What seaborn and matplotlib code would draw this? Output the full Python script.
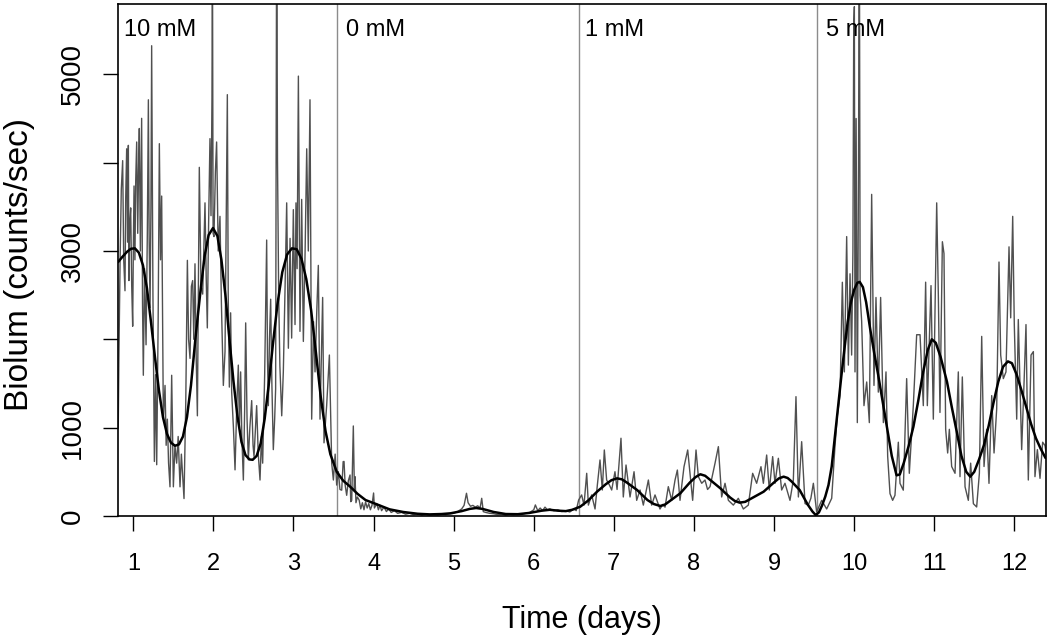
import matplotlib
matplotlib.use("Agg")
import matplotlib.pyplot as plt
import seaborn as sns
import pandas as pd

# raw bioluminescence trace (days, counts/sec)
raw_day = [
    0.812, 0.820, 0.835, 0.850, 0.867, 0.880, 0.896, 0.905, 0.917, 0.928,
    0.938, 0.945, 0.955, 0.967, 0.980, 0.992, 1.000, 1.009, 1.020, 1.030,
    1.042, 1.055, 1.065, 1.075, 1.088, 1.104, 1.115, 1.125, 1.140, 1.159,
    1.175, 1.188, 1.198, 1.209, 1.220, 1.229, 1.245, 1.263, 1.278, 1.292,
    1.310, 1.325, 1.340, 1.354, 1.375, 1.396, 1.410, 1.425, 1.440, 1.458,
    1.479, 1.500, 1.520, 1.541, 1.560, 1.583, 1.600, 1.633, 1.655, 1.675,
    1.690, 1.708, 1.725, 1.741, 1.755, 1.770, 1.785, 1.800, 1.812, 1.824,
    1.845, 1.866, 1.880, 1.895, 1.910, 1.924, 1.940, 1.957, 1.970, 1.982,
    1.988, 1.996, 2.007, 2.025, 2.040, 2.060, 2.082, 2.100, 2.124, 2.145,
    2.160, 2.174, 2.185, 2.199, 2.215, 2.228, 2.250, 2.270, 2.290, 2.311,
    2.325, 2.340, 2.355, 2.374, 2.390, 2.403, 2.420, 2.436, 2.455, 2.478,
    2.495, 2.507, 2.525, 2.540, 2.560, 2.582, 2.600, 2.615, 2.640, 2.665,
    2.675, 2.686, 2.700, 2.715, 2.730, 2.748, 2.765, 2.777, 2.790, 2.800,
    2.815, 2.830, 2.853, 2.873, 2.895, 2.915, 2.936, 2.957, 2.977, 2.998,
    3.019, 3.031, 3.045, 3.061, 3.081, 3.102, 3.123, 3.145, 3.165, 3.185,
    3.206, 3.227, 3.250, 3.269, 3.290, 3.310, 3.331, 3.364, 3.381, 3.414,
    3.448, 3.477, 3.498, 3.520, 3.539, 3.560, 3.580, 3.602, 3.620, 3.631,
    3.645, 3.664, 3.685, 3.706, 3.715, 3.727, 3.740, 3.747, 3.760, 3.768,
    3.780, 3.797, 3.820, 3.840, 3.860, 3.880, 3.900, 3.920, 3.940, 3.960,
    3.980, 4.000, 4.010, 4.040, 4.060, 4.080, 4.100, 4.130, 4.160, 4.190,
    4.220, 4.260, 4.300, 4.350, 4.400, 4.450, 4.500, 4.550, 4.600, 4.650,
    4.700, 4.750, 4.800, 4.850, 4.900, 4.950, 5.000, 5.050, 5.100, 5.130,
    5.160, 5.180, 5.210, 5.240, 5.270, 5.300, 5.330, 5.350, 5.370, 5.400,
    5.450, 5.500, 5.550, 5.600, 5.650, 5.700, 5.750, 5.800, 5.850, 5.900,
    5.950, 6.000, 6.020, 6.050, 6.080, 6.110, 6.140, 6.170, 6.200, 6.250,
    6.300, 6.350, 6.400, 6.450, 6.500, 6.530, 6.560, 6.598, 6.627, 6.661,
    6.682, 6.723, 6.765, 6.794, 6.827, 6.856, 6.881, 6.910, 6.944, 6.973,
    7.014, 7.040, 7.056, 7.089, 7.118, 7.152, 7.181, 7.202, 7.252, 7.285,
    7.327, 7.368, 7.431, 7.472, 7.514, 7.576, 7.610, 7.639, 7.680, 7.722,
    7.764, 7.793, 7.826, 7.876, 7.922, 7.951, 7.984, 8.026, 8.055, 8.097,
    8.138, 8.170, 8.201, 8.263, 8.305, 8.346, 8.388, 8.430, 8.492, 8.554,
    8.617, 8.679, 8.733, 8.783, 8.837, 8.867, 8.908, 8.941, 8.983, 9.012,
    9.054, 9.095, 9.137, 9.199, 9.241, 9.274, 9.304, 9.345, 9.387, 9.428,
    9.460, 9.491, 9.532, 9.595, 9.657, 9.720, 9.761, 9.790, 9.824, 9.853,
    9.878, 9.907, 9.928, 9.949, 9.969, 9.985, 9.995, 10.003, 10.011, 10.025,
    10.040, 10.055, 10.065, 10.075, 10.094, 10.123, 10.157, 10.190, 10.219, 10.248,
    10.273, 10.302, 10.331, 10.365, 10.398, 10.419, 10.448, 10.481, 10.510, 10.552,
    10.573, 10.614, 10.656, 10.689, 10.739, 10.781, 10.823, 10.864, 10.893, 10.914,
    10.960, 10.989, 11.031, 11.052, 11.072, 11.102, 11.122, 11.143, 11.168, 11.189,
    11.218, 11.260, 11.301, 11.322, 11.351, 11.385, 11.426, 11.455, 11.489, 11.530,
    11.564, 11.593, 11.622, 11.655, 11.684, 11.718, 11.747, 11.780, 11.809, 11.830,
    11.863, 11.896, 11.934, 11.955, 11.980, 12.000, 12.030, 12.050, 12.092, 12.125,
    12.146, 12.175, 12.209, 12.238, 12.258, 12.288, 12.321, 12.354, 12.383, 12.400,
]
raw_val = [
    1000, 1800, 2900, 3700, 4023, 2900, 2550, 3600, 4157, 3100,
    4196, 2665, 3300, 3488, 2600, 2148, 3000, 3736, 2900, 3800,
    4234, 3200, 3900, 4387, 3000, 4502, 2400, 1593, 2800, 1938,
    3200, 4712, 3100, 2359, 3500, 5324, 2500, 617, 1600, 580,
    2200, 4215, 2900, 3622, 1096, 1478, 800, 1096, 600, 330,
    1593, 330, 800, 598, 900, 330, 700, 197, 1300, 2894,
    2000, 1784, 2600, 2665, 2000, 2855, 1800, 1134, 2500, 3947,
    2600, 2512, 3000, 3545, 2700, 2129, 3300, 4272, 3400, 4732,
    6500, 3200, 3163, 3900, 4234, 3000, 3392, 2400, 1478, 1861,
    3300, 4770, 2500, 1459, 2300, 1402, 1000, 522, 1200, 1708,
    1000, 1631, 900, 407, 1200, 2186, 1100, 636, 1000, 1306,
    800, 675, 1000, 1249, 700, 407, 900, 598, 1600, 3124,
    1800, 1249, 2000, 2454, 1500, 751, 1100, 1440, 7000, 4042,
    2500, 1700, 1134, 1631, 2600, 3545, 1899, 3143, 2014, 3468,
    2167, 3545, 2800, 4980, 2090, 3584, 1976, 3000, 4157, 3000,
    4712, 1096, 2200, 1631, 2300, 2837, 1096, 2474, 828, 1249,
    1822, 598, 407, 700, 350, 502, 300, 292, 615, 617,
    350, 234, 400, 464, 162, 177, 710, 1019, 300, 445,
    150, 215, 180, 80, 150, 70, 160, 90, 140, 70,
    120, 260, 90, 140, 70, 120, 60, 100, 50, 80,
    40, 60, 30, 40, 20, 30, 15, 25, 10, 20,
    10, 15, 10, 20, 15, 25, 30, 50, 80, 120,
    257, 150, 110, 120, 100, 115, 90, 200, 49, 40,
    30, 25, 15, 20, 10, 20, 15, 25, 20, 30,
    40, 70, 125, 60, 90, 60, 100, 70, 80, 60,
    70, 50, 60, 45, 80, 60, 180, 238, 123, 483,
    123, 238, 79, 351, 634, 294, 747, 407, 351, 294,
    501, 300, 490, 880, 215, 577, 370, 215, 501, 177,
    294, 123, 407, 123, 238, 79, 130, 100, 332, 177,
    407, 520, 177, 558, 747, 483, 177, 747, 445, 370,
    407, 300, 332, 596, 785, 215, 370, 177, 123, 200,
    79, 123, 483, 370, 558, 370, 690, 294, 672, 370,
    653, 294, 370, 177, 407, 1351, 215, 841, 140, 123,
    200, 370, 45, 177, 79, 200, 790, 1134, 1363, 2646,
    1631, 3163, 1708, 2742, 1822, 3000, 5500, 5766, 1631, 4500,
    1057, 4000, 7000, 2500, 2206, 1249, 1517, 1057, 3641, 1478,
    2474, 1402, 2474, 1057, 1631, 675, 253, 177, 234, 835,
    369, 292, 1555, 483, 1249, 2052, 2052, 1249, 2647, 1249,
    2608, 1096, 3545, 2474, 1172, 3105, 2971, 981, 713, 981,
    560, 483, 1631, 445, 1574, 330, 177, 598, 139, 102,
    483, 2033, 560, 981, 369, 1363, 713, 1210, 2875, 1822,
    1555, 1631, 3047, 2243, 3392, 2167, 1096, 2224, 751, 1593,
    2167, 407, 1822, 1861, 445, 751, 426, 835, 798, 700,
]

# smoothed fit drawn over the trace
fit_day = [
    0.81, 0.86, 0.92, 0.97, 1.02, 1.07, 1.12, 1.17, 1.22, 1.27,
    1.32, 1.37, 1.42, 1.47, 1.52, 1.57, 1.62, 1.67, 1.72, 1.78,
    1.84, 1.89, 1.94, 1.995, 2.05, 2.10, 2.15, 2.20, 2.25, 2.30,
    2.35, 2.40, 2.45, 2.49, 2.54, 2.59, 2.64, 2.69, 2.74, 2.80,
    2.86, 2.92, 2.98, 3.04, 3.10, 3.16, 3.22, 3.28, 3.34, 3.40,
    3.46, 3.54, 3.62, 3.71, 3.80, 3.90, 4.02, 4.20, 4.37, 4.55,
    4.70, 4.85, 4.96, 5.10, 5.20, 5.28, 5.36, 5.50, 5.65, 5.80,
    5.95, 6.10, 6.20, 6.30, 6.40, 6.48, 6.58, 6.68, 6.79, 6.90,
    6.97, 7.04, 7.10, 7.16, 7.29, 7.42, 7.50, 7.58, 7.64, 7.70,
    7.83, 7.95, 8.02, 8.08, 8.14, 8.20, 8.33, 8.45, 8.51, 8.57,
    8.64, 8.72, 8.87, 9.00, 9.06, 9.12, 9.17, 9.22, 9.32, 9.42,
    9.48, 9.52, 9.56, 9.60, 9.64, 9.68, 9.72, 9.76, 9.80, 9.84,
    9.88, 9.92, 9.96, 10.00, 10.04, 10.07, 10.11, 10.15, 10.20, 10.25,
    10.30, 10.35, 10.41, 10.47, 10.53, 10.57, 10.62, 10.68, 10.74, 10.80,
    10.86, 10.92, 10.97, 11.02, 11.08, 11.16, 11.22, 11.28, 11.34, 11.40,
    11.45, 11.50, 11.56, 11.62, 11.68, 11.74, 11.80, 11.86, 11.92, 11.97,
    12.03, 12.09, 12.15, 12.21, 12.27, 12.33, 12.39,
]
fit_val = [
    2875, 2930, 2990, 3025, 3030, 2980, 2840, 2580, 2200, 1800,
    1420, 1120, 930, 830, 795, 810, 900, 1120, 1480, 2050,
    2560, 2940, 3180, 3260, 3170, 2900, 2500, 2000, 1530, 1130,
    840, 690, 640, 636, 680, 820, 1100, 1480, 1920, 2400,
    2760, 2960, 3030, 3020, 2910, 2680, 2330, 1850, 1350, 960,
    700, 500, 400, 330, 250, 180, 139, 75, 45, 25,
    18, 22, 30, 55, 80, 90, 80, 45, 22, 20,
    35, 60, 70, 60, 55, 70, 105, 175, 275, 360,
    405, 426, 415, 380, 294, 180, 135, 113, 130, 170,
    257, 380, 440, 472, 455, 410, 313, 210, 170, 151,
    160, 200, 275, 380, 425, 445, 430, 390, 294, 130,
    50, 11, 40, 120, 220, 350, 560, 900, 1230, 1580,
    1900, 2200, 2420, 2560, 2640, 2650, 2590, 2420, 2120, 1850,
    1600, 1330, 1000, 680, 460, 470, 600, 790, 1010, 1300,
    1620, 1880, 2000, 1960, 1800, 1517, 1230, 960, 680, 500,
    445, 500, 640, 800, 1020, 1280, 1520, 1690, 1750, 1730,
    1600, 1420, 1230, 1040, 880, 760, 656,
]

# medium changes and concentration labels
change_days = [3.545, 6.56, 9.54]
conc_labels = ["10 mM", "0 mM", "1 mM", "5 mM"]
conc_label_days = [0.885, 3.66, 6.64, 9.65]

raw = pd.DataFrame({"day": raw_day, "biolum": raw_val})
fit = pd.DataFrame({"day": fit_day, "biolum": fit_val})

sns.set_style("ticks")
plt.rcParams["font.family"] = ["Liberation Sans", "DejaVu Sans"]
plt.rcParams["text.color"] = "black"
plt.rcParams["xtick.color"] = "black"
plt.rcParams["ytick.color"] = "black"
plt.rcParams["axes.labelcolor"] = "black"

fig = plt.figure(figsize=(10.5, 6.4), dpi=100)
ax = fig.add_axes([0.1124, 0.1938, 0.8835, 0.7999])

for d in change_days:
    ax.axvline(d, color="#8c8c8c", lw=1.0, zorder=1)

sns.lineplot(data=raw, x="day", y="biolum", ax=ax, sort=False, estimator=None,
             color="#505050", lw=1.0, zorder=2)
sns.lineplot(data=fit, x="day", y="biolum", ax=ax, sort=False, estimator=None,
             color="black", lw=1.8, zorder=3)

for lab, d in zip(conc_labels, conc_label_days):
    ax.text(d, 5500, lab, fontsize=17, ha="left", va="center", color="black")

ax.set_xlim(0.809, 12.392)
ax.set_ylim(0, 5796)
ax.set_xticks(range(1, 13))
ax.set_xticklabels([str(i) for i in range(1, 13)], fontsize=17)
ax.set_yticks([0, 1000, 2000, 3000, 4000, 5000])
ax.set_yticklabels(["0", "1000", "", "3000", "", "5000"], fontsize=20,
                   rotation=90, va="center")
ax.tick_params(axis="both", direction="out", length=11, width=1.0,
               color="black", labelcolor="black")
ax.tick_params(axis="x", pad=16)
ax.tick_params(axis="y", pad=12)
ax.set_xlabel("")
ax.set_ylabel("")
for sp in ax.spines.values():
    sp.set_visible(True)
    sp.set_color("black")
    sp.set_linewidth(1.2)

fig.text(0.554, 0.031, "Time (days)", fontsize=22, ha="center", va="center")
fig.text(0.019, 0.587, "Biolum (counts/sec)", fontsize=24, ha="center",
         va="center", rotation=90)

fig.savefig("out.png", dpi=100)
